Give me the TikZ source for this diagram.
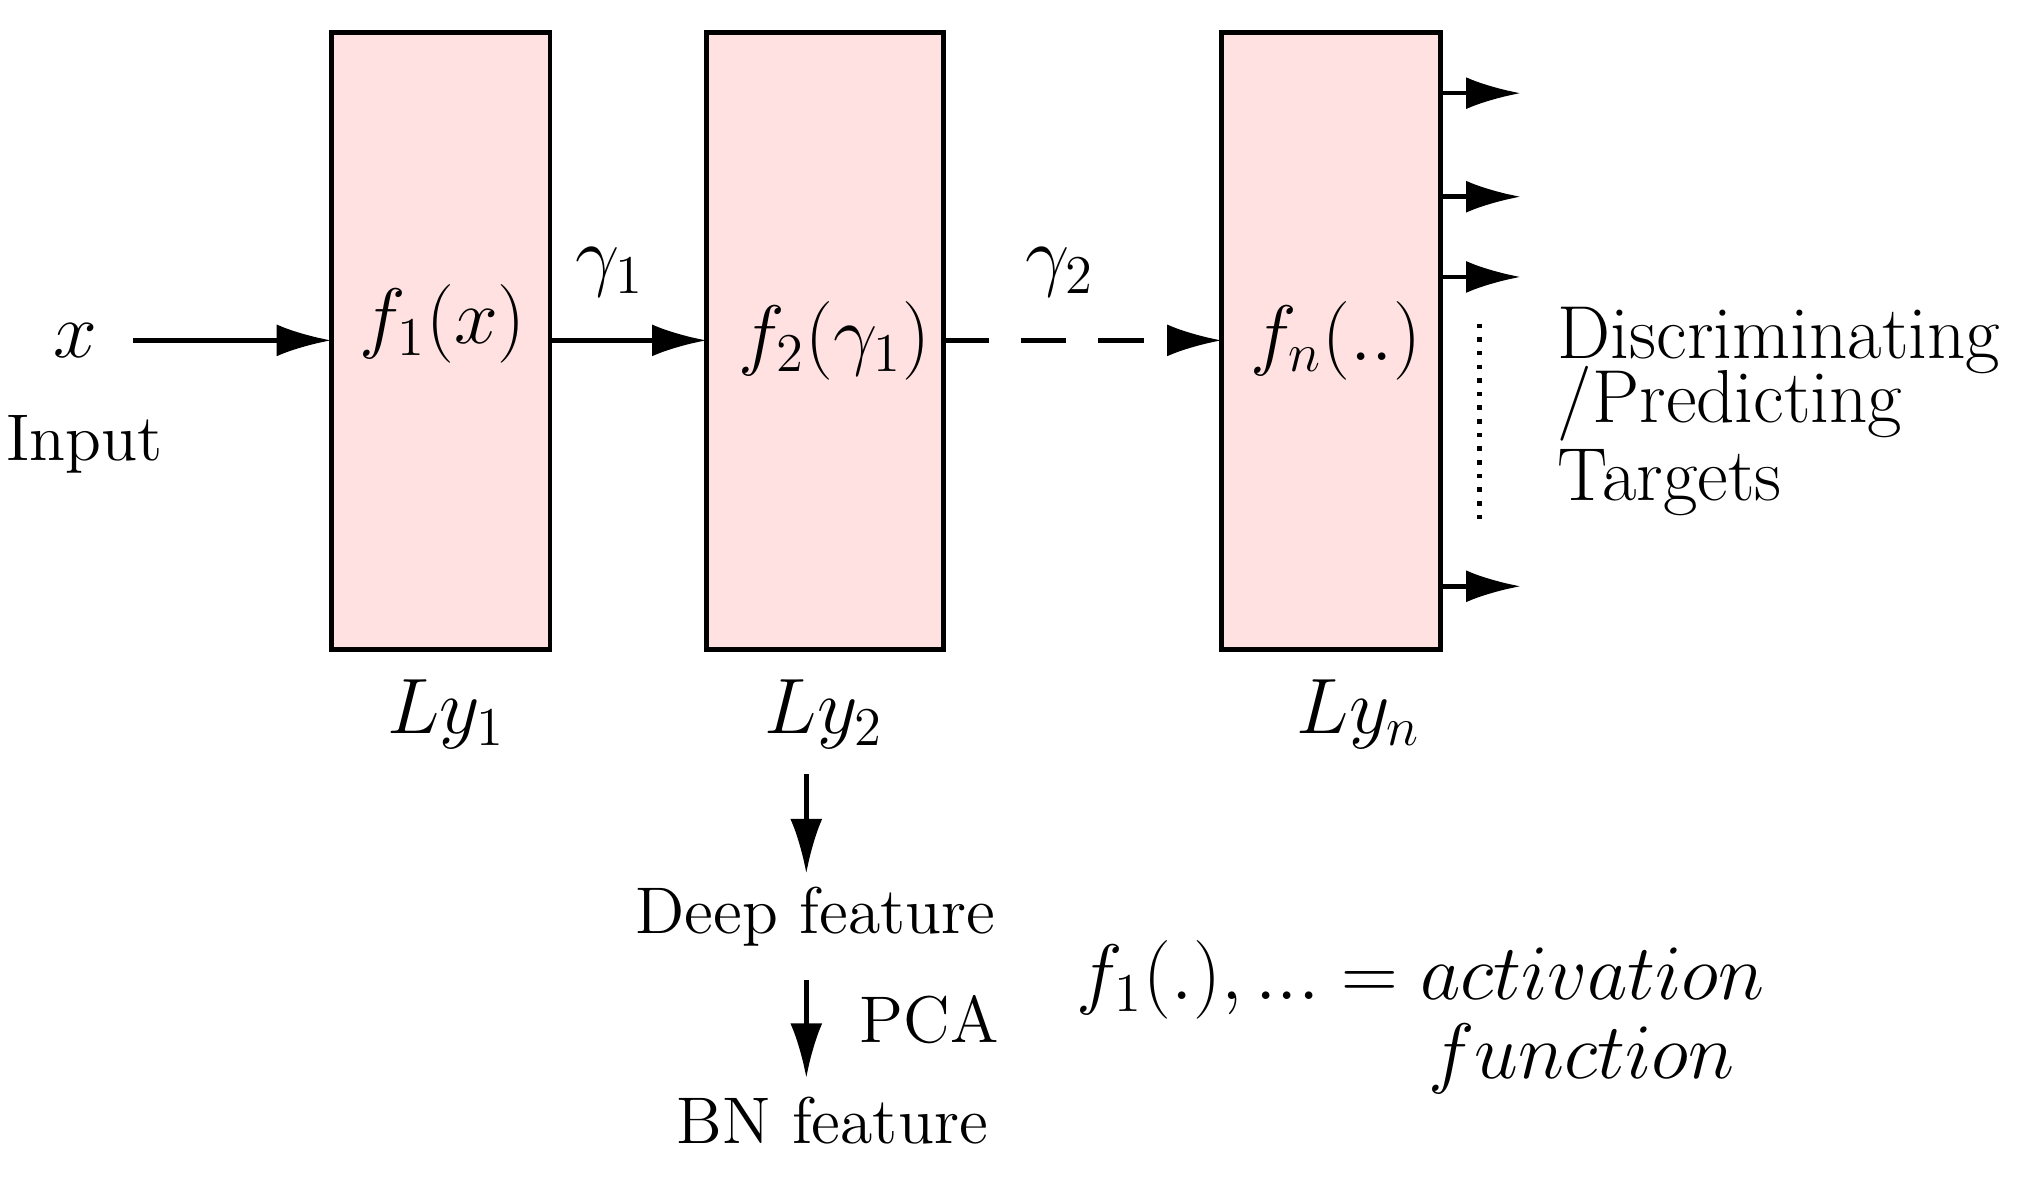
\documentclass[tikz,border=0pt]{standalone}
\usetikzlibrary{arrows.meta}
\begin{document}
\begin{tikzpicture}[x=0.01cm,y=-0.01cm,
  layer/.style={draw,line width=1pt,fill={rgb,255:red,255;green,225;blue,225}},
  conn/.style={line width=1pt,-{Latex[length=12pt,width=7pt]}},
  lbl/.style={font=\fontsize{16.5}{18}\selectfont,inner sep=0pt},
  txt/.style={font=\fontsize{14.5}{16}\selectfont,inner sep=0pt}]
\useasboundingbox (0,0) rectangle (1560,910);
% layers
\draw[layer] (256,25) rectangle (425,502);
\draw[layer] (546,25) rectangle (729,502);
\draw[layer] (944,25) rectangle (1113,502);
\node[lbl] (x) at (58,263) {$x$};
\node[txt] (inp) at (65,343) {Input};
\node[lbl] (f1) at (342,250) {$f_1(x)$};
\node[lbl] (f2) at (645,263) {$f_2(\gamma_1)$};
\node[lbl] (fn) at (1032,263) {$f_n(..)$};
\coordinate (a0) at (103,263);
\coordinate (a1) at (256,263);
\coordinate (b0) at (425,263);
\coordinate (b1) at (546,263);
\coordinate (c0) at (729,263);
\coordinate (c1) at (944,263);
\draw[conn] (a0) -- (a1);
\draw[conn] (b0) -- (b1) node[lbl,pos=0.38,above=9pt] {$\gamma_1$};
\draw[conn,dashed,dash pattern=on 10pt off 7pt] (c0) -- (c1) node[lbl,pos=0.42,above=9pt] {$\gamma_2$};
% outputs
\foreach \y [count=\n] in {72,152,214,453}
  {\coordinate (o\n) at (1113,\y);
   \coordinate (t\n) at (1175,\y);
   \draw[conn] (o\n) -- (t\n);}
\coordinate (d0) at (1143,250);
\coordinate (d1) at (1143,405);
\draw[line width=1pt,dotted] (d0) -- (d1);
\node[lbl,anchor=west] (tg1) at (1203,263) {Discriminating};
\node[lbl,anchor=west] (tg2) at (1203,312) {/Predicting};
\node[lbl,anchor=west] (tg3) at (1203,373) {Targets};
% layer labels
\node[lbl] (ly1) at (345,552) {$Ly_1$};
\node[lbl] (ly2) at (637,552) {$Ly_2$};
\node[lbl] (lyn) at (1050,552) {$Ly_n$};
\node[txt] (deep) at (630,708) {Deep feature};
\node[txt] (bn) at (643,866) {BN feature};
\node[txt] (pca) at (718,788) {PCA};
\coordinate (e0) at (623,598);
\coordinate (e1) at (623,675);
\coordinate (g0) at (623,757);
\coordinate (g1) at (623,833);
\draw[conn] (e0) -- (e1);
\draw[conn] (g0) -- (g1);
\node[lbl] (act) at (1098,757) {$f_1(.),...=activation$};
\node[lbl] (fun) at (1222,818) {$function$};
\end{tikzpicture}
\end{document}
